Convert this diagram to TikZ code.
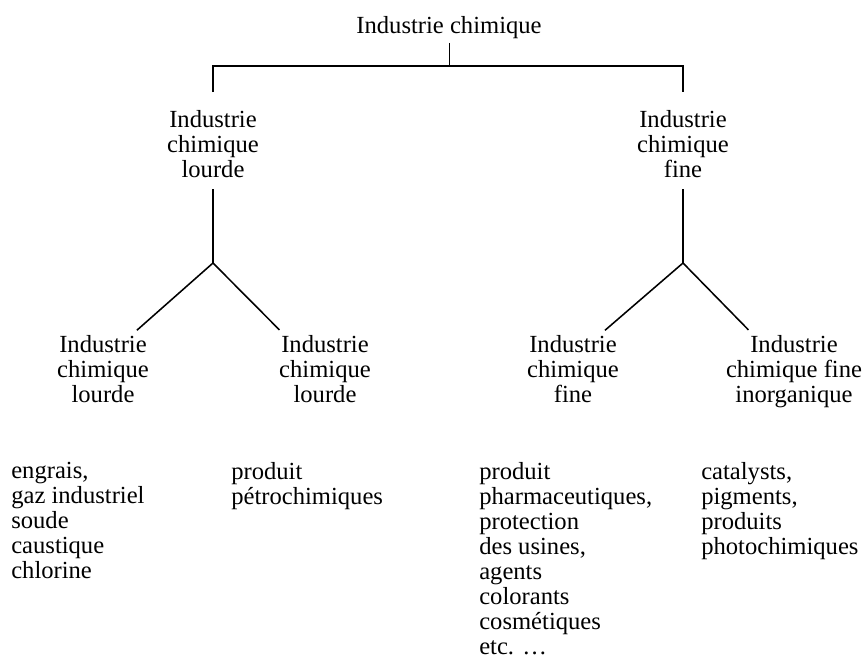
\documentclass[tikz,border=0pt]{standalone}
\usepackage{fontspec}
\setmainfont{Liberation Serif}
\begin{document}
\begin{tikzpicture}[
        x=0.025cm, y=-0.025cm,
        every node/.style={
            inner sep=0pt,
            font=\fontsize{17.5}{17.8}\selectfont
        },
        branche/.style={align=center, anchor=north},
        liste/.style={align=left, anchor=north west},
        trait/.style={line width=1.1pt}
    ]
    \useasboundingbox (0,0) rectangle (862,660);

    % Noeuds de l'arbre
    \node[branche] (ic)  at (449,16)  {Industrie chimique};
    \node[branche] (icl) at (213,110) {Industrie\\chimique\\lourde};
    \node[branche] (icf) at (683,110) {Industrie\\chimique\\fine};
    \node[branche] (ll)  at (103,335) {Industrie\\chimique\\lourde};
    \node[branche] (lp)  at (325,335) {Industrie\\chimique\\lourde};
    \node[branche] (ff)  at (573,335) {Industrie\\chimique\\fine};
    \node[branche] (fi)  at (794,335) {Industrie\\chimique fine\\inorganique};

    % Produits
    \node[liste] (pll) at (11,462)  {engrais,\\gaz industriel\\soude\\caustique\\chlorine};
    \node[liste] (plp) at (231,462) {produit\\pétrochimiques};
    \node[liste] (pff) at (479,462) {produit\\pharmaceutiques,\\protection\\des usines,\\agents\\colorants\\cosmétiques\\etc. …};
    \node[liste] (pfi) at (701,462) {catalysts,\\pigments,\\produits\\photochimiques};

    % Points de jonction
    \coordinate (j0) at (449,66);
    \coordinate (jl) at (213,66);
    \coordinate (jr) at (683,66);
    \coordinate (vl) at (213,263);
    \coordinate (vr) at (683,263);

    % Traits
    \draw[line width=0.6pt, shorten <=0.1cm] (ic.south) -- (j0);
    \draw[trait, shorten <=0.45cm, shorten >=0.45cm] (icl.north) -- (jl) -- (jr) -- (icf.north);
    \draw[trait, shorten <=0.28cm] (icl.south) -- (vl);
    \draw[trait, shorten <=0.28cm] (icf.south) -- (vr);
    \draw[trait, shorten <=0.18cm, shorten >=0.18cm] (ll.50) -- (vl) -- (lp.140);
    \draw[trait, shorten <=0.18cm, shorten >=0.18cm] (ff.52) -- (vr) -- (fi.138);

\end{tikzpicture}
\end{document}
